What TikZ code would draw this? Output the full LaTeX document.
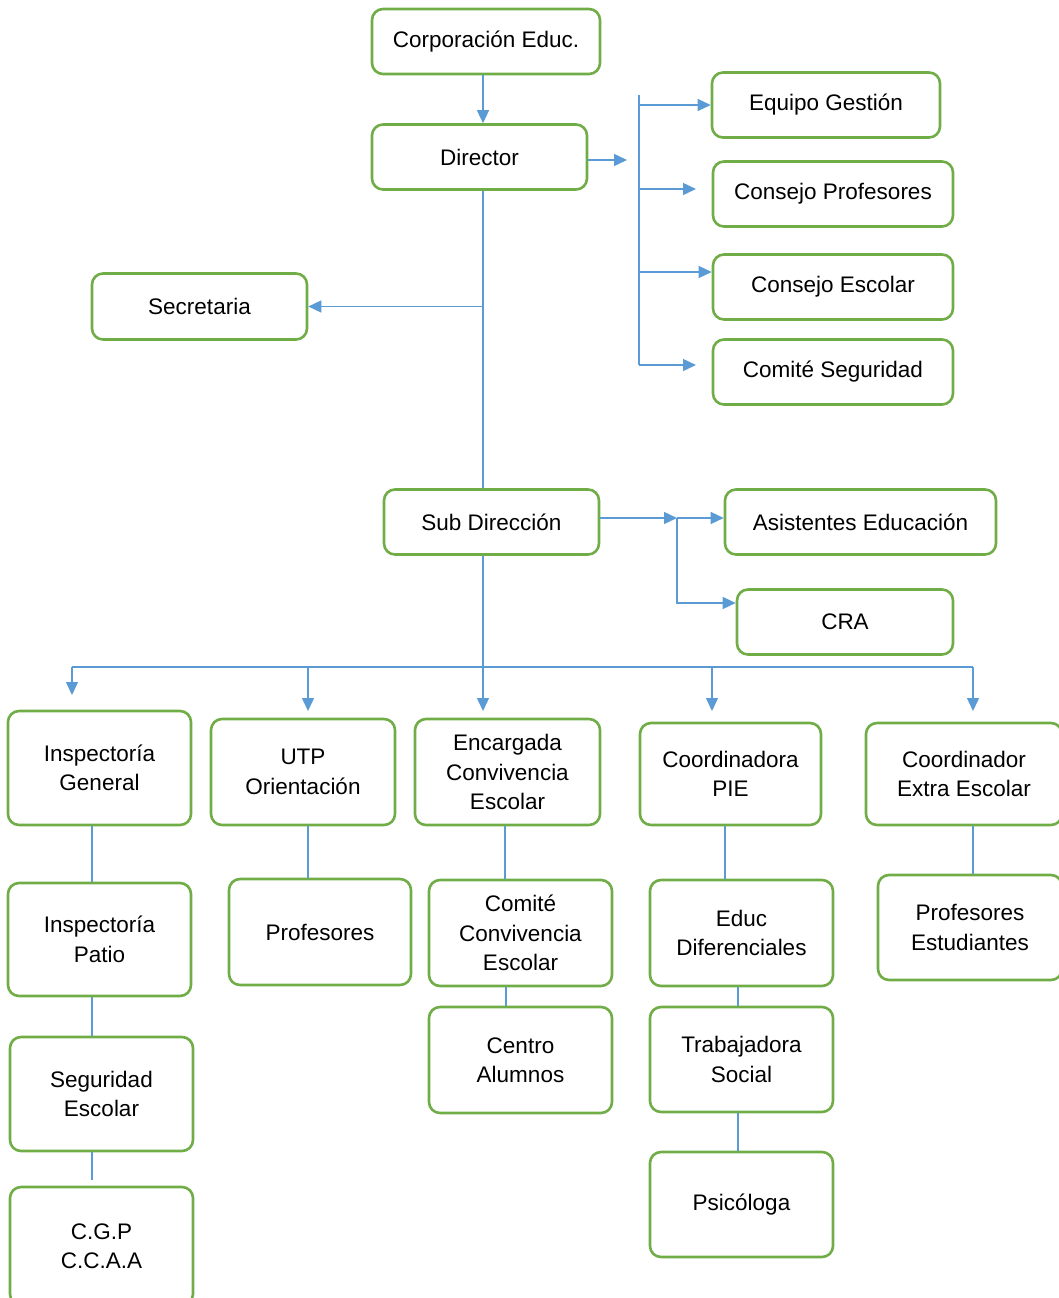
\documentclass[tikz,border=0pt]{standalone}
\usepackage{fontspec}
\setmainfont{Liberation Sans}
\usetikzlibrary{arrows.meta}
\definecolor{boxgreen}{RGB}{112,173,71}
\definecolor{lineblue}{RGB}{91,155,213}

\begin{document}
\begin{tikzpicture}[x=1pt, y=-1pt, % 1 Einheit = 1 Pixel, y nach unten
  box/.style={draw=boxgreen, line width=2.6pt, rounded corners=11pt, align=center, inner sep=0pt,
    font=\fontsize{22.5}{29.5}\selectfont},
  con/.style={draw=lineblue, line width=1.4pt},
  pfeil/.style={con, -{Triangle[length=13pt, width=12pt]}}]
\useasboundingbox (0,0) rectangle (1058,1298);

% Kaesten: Name/x/y/Breite/Hoehe/Text
\foreach \n/\cx/\cy/\w/\h/\t in {
  corp/486/41.5/228/65/{Corporación Educ.},
  dir/479.5/157/215/65/{Director},
  equipo/826/105/228/65/{Equipo Gestión},
  cprof/833/194/240/65/{Consejo Profesores},
  cesc/833/287/240/65/{Consejo Escolar},
  cseg/833/372/240/65/{Comité Seguridad},
  secr/199.5/306.5/215/66/{Secretaria},
  sub/491.5/522/215/65/{Sub Dirección},
  asist/860.5/522/271/65/{Asistentes Educación},
  cra/845/622/216/65/{CRA},
  ig/99.5/768/183/114/{Inspectoría\\General},
  utp/303/772/184/106/{UTP\\Orientación},
  enc/507.5/772/185/106/{Encargada\\Convivencia\\Escolar},
  pie/730.5/774/181/102/{Coordinadora\\PIE},
  extra/964/774/196/102/{Coordinador\\Extra Escolar},
  ip/99.5/939.5/183/113/{Inspectoría\\Patio},
  prof/320/932/182/106/{Profesores},
  ccon/520.5/933/183/106/{Comité\\Convivencia\\Escolar},
  educ/741.5/933/183/106/{Educ\\Diferenciales},
  pest/970/927.5/184/105/{Profesores\\Estudiantes},
  seg/101.5/1094/183/114/{Seguridad\\Escolar},
  centro/520.5/1060/183/106/{Centro\\Alumnos},
  trab/741.5/1059.5/183/105/{Trabajadora\\Social},
  cgp/101.5/1246/183/118/{C.G.P\\C.C.A.A},
  psi/741.5/1204.5/183/105/{Psicóloga}}
  \node[box, minimum width=\w pt, minimum height=\h pt] (\n) at (\cx,\cy) {\t};

% Hilfspunkte
\coordinate (stamm) at (483,0);
\coordinate (ast) at (639,95);
\coordinate (astende) at (639,365);
\coordinate (dirpfeil) at (627,160);
\coordinate (knick) at (677,518);
\coordinate (crapfeil) at (677,603);
\coordinate (bus) at (483,667);

% Oberer Teil
\draw[pfeil] (corp.south -| stamm) -- (dir.north -| stamm);
\draw[pfeil] (dir.east |- dirpfeil) -- (dirpfeil);
\draw[con] (ast) -- (astende);
\draw[pfeil] (ast |- equipo.west) -- (equipo.west);
\draw[pfeil] (639,189) -- (696,189);
\draw[pfeil] (639,272) -- (cesc.west |- 0,272);
\draw[pfeil] (astende) -- (696,365);
\draw[con] (dir.south -| stamm) -- (sub.north -| stamm);
\draw[pfeil] (stamm |- secr.east) -- (secr.east);

% Sub Direccion
\draw[pfeil] (sub.east |- knick) -- (knick);
\draw[pfeil] (knick) -- (asist.west |- knick);
\draw[pfeil] (knick) -- (crapfeil) -- (cra.west |- crapfeil);

% Verteiler unten
\draw[con] (sub.south -| stamm) -- (bus);
\draw[con] (72,667) -- (973,667);
\foreach \x/\y in {72/695, 308/711, 483/711, 712/711, 973/711}
  \draw[pfeil] (\x,667) -- (\x,\y);

% Verbindungen zwischen den Kaesten
\foreach \a/\b/\x in {ig/ip/92, ip/seg/92, utp/prof/308, enc/ccon/505, ccon/centro/506,
    pie/educ/725, educ/trab/738, trab/psi/738, extra/pest/973}
  \draw[con] (\a.south -| \x,0) -- (\b.north -| \x,0);
\draw[con] (seg.south -| 92,0) -- (92,1180);

\end{tikzpicture}
\end{document}
